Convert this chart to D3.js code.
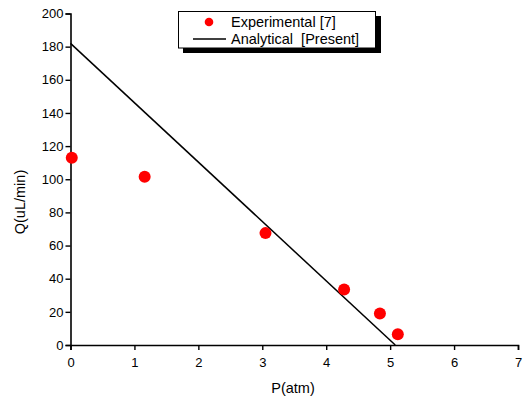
<!DOCTYPE html>
<html><head><meta charset="utf-8">
<script src="https://cdn.jsdelivr.net/npm/d3@7"></script>
<style>body{margin:0;background:#fff}svg{display:block;font-family:"Liberation Sans",Arial,sans-serif}</style>
</head><body><svg id="c" width="527" height="396"></svg>
<script>
const expP = [0.02, 1.16, 3.05, 4.28, 4.84, 5.12];
const expQ = [113, 101.5, 67.5, 33.5, 19, 6.5];
const anaP = [0, 5.08];
const anaQ = [182, 0];
const xTicks = [0,1,2,3,4,5,6,7];
const yTicks = [0,20,40,60,80,100,120,140,160,180,200];

const svg = d3.select('#c');
const x = d3.scaleLinear().domain([0,7]).range([70.5,518]);
const y = d3.scaleLinear().domain([0,200]).range([345,13.5]);

const gx = svg.append('g').attr('transform','translate(0,345)');
gx.call(d3.axisBottom(x).tickValues(d3.range(0.5,7,1)).tickSize(3).tickFormat(''));
gx.call(d3.axisBottom(x).tickValues(xTicks).tickSize(5).tickFormat(d3.format('d')));
gx.selectAll('path.domain').attr('stroke-width',1.6);
gx.selectAll('text').attr('font-size',13).attr('fill','#000').attr('dy','1.1em');
gx.selectAll('line').attr('stroke-width',1.4);

const gy = svg.append('g').attr('transform','translate(70.5,0)');
gy.call(d3.axisLeft(y).tickValues(d3.range(10,200,20)).tickSize(3).tickFormat(''));
gy.call(d3.axisLeft(y).tickValues(yTicks).tickSize(5).tickFormat(d3.format('d')));
gy.selectAll('path.domain').attr('stroke-width',1.6);
gy.selectAll('text').attr('font-size',13).attr('fill','#000').attr('x',-7);
gy.selectAll('line').attr('stroke-width',1.4);

svg.append('path').datum(anaP.map((p,i)=>[p,anaQ[i]]))
  .attr('d', d3.line().x(d=>x(d[0])).y(d=>y(d[1])))
  .attr('fill','none').attr('stroke','#000').attr('stroke-width',1.5);

svg.selectAll('circle.e').data(expP.map((p,i)=>[p,expQ[i]])).enter().append('circle')
  .attr('cx',d=>x(d[0])).attr('cy',d=>y(d[1])).attr('r',6).attr('fill','#ff0000');

svg.append('text').attr('x',293).attr('y',393).attr('text-anchor','middle').attr('font-size',14.5).text('P(atm)');
svg.append('text').attr('transform','translate(25,202) rotate(-90)').attr('text-anchor','middle').attr('font-size',14.5).text('Q(uL/min)');

const lg = svg.append('g');
lg.append('rect').attr('x',183).attr('y',16).attr('width',198).attr('height',37).attr('fill','#000');
lg.append('rect').attr('x',178.5).attr('y',11.5).attr('width',197).attr('height',36.5).attr('fill','#fff').attr('stroke','#000').attr('stroke-width',1);
lg.append('circle').attr('cx',209).attr('cy',22).attr('r',4.3).attr('fill','#ff0000');
lg.append('line').attr('x1',193).attr('x2',226).attr('y1',39).attr('y2',39).attr('stroke','#000').attr('stroke-width',1.5);
lg.append('text').attr('x',231).attr('y',27).attr('font-size',14.5).text('Experimental [7]');
lg.append('text').attr('x',231).attr('y',43.5).attr('font-size',14.5).style('white-space','pre').text('Analytical  [Present]');
</script></body></html>
